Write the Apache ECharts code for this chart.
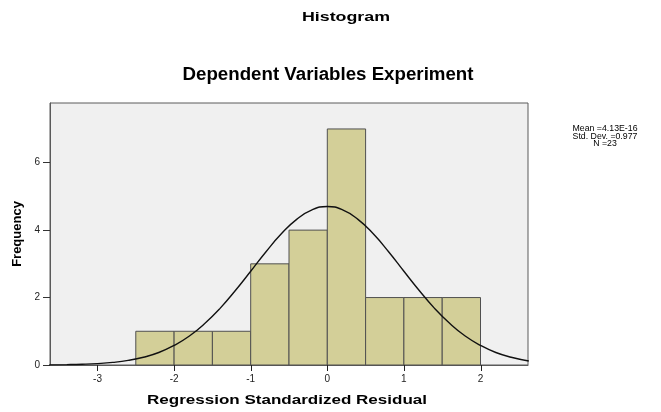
<!DOCTYPE html>
<html>
<head>
<meta charset="utf-8">
<script src="https://cdn.jsdelivr.net/npm/echarts@6/dist/echarts.min.js"></script>
<style>html,body{margin:0;padding:0;background:#fff}#c{width:661px;height:412px}</style>
</head>
<body>
<div id="c"></div>
<script>
// Histogram bins (lower edge, upper edge) and frequencies
const binStart = [-2.5, -2.0, -1.5, -1.0, -0.5, 0.0, 0.5, 1.0, 1.5];
const binEnd   = [-2.0, -1.5, -1.0, -0.5, 0.0, 0.5, 1.0, 1.5, 2.0];
const frequency = [1, 1, 1, 3, 4, 7, 2, 2, 2];

// Normal curve
const curveX = [-3.63, -3.4, -3.2, -3.0, -2.8, -2.6, -2.4, -2.2, -2.0, -1.8, -1.6, -1.4, -1.2, -1.0, -0.8, -0.6, -0.4, -0.2, 0.0,
                0.2, 0.4, 0.6, 0.8, 1.0, 1.2, 1.4, 1.6, 1.8, 2.0, 2.2, 2.4, 2.63];
const curveY = [0.004, 0.011, 0.022, 0.042, 0.077, 0.136, 0.23, 0.37, 0.58, 0.86, 1.23, 1.68, 2.21, 2.78, 3.36, 3.89, 4.32, 4.60, 4.70,
                4.60, 4.32, 3.89, 3.36, 2.78, 2.21, 1.68, 1.23, 0.86, 0.58, 0.37, 0.23, 0.12];

const xTicks = [-3, -2, -1, 0, 1, 2];
const yTicks = [0, 2, 4, 6];

const chartTitle = 'Histogram';
const subTitle = 'Dependent Variables Experiment';
const xName = 'Regression Standardized Residual';
const yName = 'Frequency';
const statsLines = ['Mean =4.13E-16', 'Std. Dev. =0.977', 'N =23'];

const cv = document.createElement('canvas').getContext('2d');
function stretchedText(text, font, cx, cy, targetW, fill) {
  cv.font = font;
  const w = cv.measureText(text).width;
  return {
    type: 'text', x: cx, y: cy, scaleX: targetW ? targetW / w : 1, silent: true, z: 10,
    style: { text: text, font: font, fill: fill || '#000', textAlign: 'center', textVerticalAlign: 'middle', align: 'center', verticalAlign: 'middle' }
  };
}

const chart = echarts.init(document.getElementById('c'), null, { renderer: 'canvas' });
const barData = binStart.map((s, i) => [s, binEnd[i], frequency[i]]);
const curveData = curveX.map((x, i) => [x, curveY[i]]);

const statsFont = '9px "Liberation Sans"';
cv.font = statsFont;
const statsScale = 65 / cv.measureText(statsLines[0]).width;
function statsText(t, y) {
  return { type: 'text', x: 605, y: y, scaleX: statsScale, silent: true, z: 10,
    style: { text: t, font: statsFont, fill: '#000', textAlign: 'center', textVerticalAlign: 'middle', align: 'center', verticalAlign: 'middle' } };
}

const textGraphics = [
  stretchedText(chartTitle, 'bold 13px "Liberation Sans"', 346, 17, 88),
  stretchedText(subTitle, 'bold 18px "Liberation Sans"', 328, 75, 291),
  stretchedText(xName, 'bold 13px "Liberation Sans"', 287, 400, 280),
  statsText(statsLines[0], 128.5),
  statsText(statsLines[1], 136.5),
  statsText(statsLines[2], 144)
];

chart.setOption({
  animation: false,
  backgroundColor: '#ffffff',
  grid: {
    left: 50, top: 103, right: 133, bottom: 47,
    show: true, backgroundColor: '#f0f0f0', borderColor: '#5a5a5a', borderWidth: 1
  },
  xAxis: {
    type: 'value', min: -3.62, max: 2.62,
    axisLine: { show: true, onZero: false, lineStyle: { color: '#5a5a5a', width: 1 } },
    splitLine: { show: false },
    axisTick: { show: false },
    axisLabel: { customValues: xTicks, margin: 9, fontSize: 10, color: '#222', fontFamily: 'Liberation Sans' }
  },
  yAxis: {
    type: 'value', min: 0, max: 7.77,
    name: yName, nameLocation: 'middle', nameGap: 21, nameRotate: 90,
    nameTextStyle: { fontSize: 13, fontWeight: 'bold', color: '#000', fontFamily: 'Liberation Sans' },
    axisLine: { show: true, onZero: false, lineStyle: { color: '#5a5a5a', width: 1 } },
    splitLine: { show: false },
    axisTick: { show: true, length: 7, customValues: yTicks, lineStyle: { color: '#333', width: 1 } },
    axisLabel: { customValues: yTicks, margin: 10, fontSize: 10, color: '#222', fontFamily: 'Liberation Sans' }
  },
  series: [
    {
      type: 'custom',
      data: barData,
      encode: { x: [0, 1], y: 2 },
      renderItem: function (params, api) {
        const p0 = api.coord([api.value(0), api.value(2)]);
        const p1 = api.coord([api.value(1), 0]);
        return {
          type: 'rect',
          shape: { x: p0[0], y: p0[1], width: p1[0] - p0[0], height: p1[1] - p0[1] },
          style: { fill: '#d3cf98', stroke: '#505050', lineWidth: 1 }
        };
      },
      z: 2
    },
    {
      type: 'line',
      data: curveData,
      smooth: true,
      showSymbol: false,
      lineStyle: { color: '#111', width: 1.4 },
      clip: true,
      z: 3
    }
  ],
  graphic: textGraphics
});

// x-axis tick marks, positioned through the chart's own x scale
const tickGraphics = xTicks.map(v => {
  const p = chart.convertToPixel({ gridIndex: 0 }, [v, 0]);
  const x = Math.round(p[0]) + 0.5;
  return { type: 'line', silent: true, z: 10,
    shape: { x1: x, y1: p[1], x2: x, y2: p[1] + 6 },
    style: { stroke: '#222', lineWidth: 1 } };
});
chart.setOption({ graphic: textGraphics.concat(tickGraphics) });
</script>
</body>
</html>
